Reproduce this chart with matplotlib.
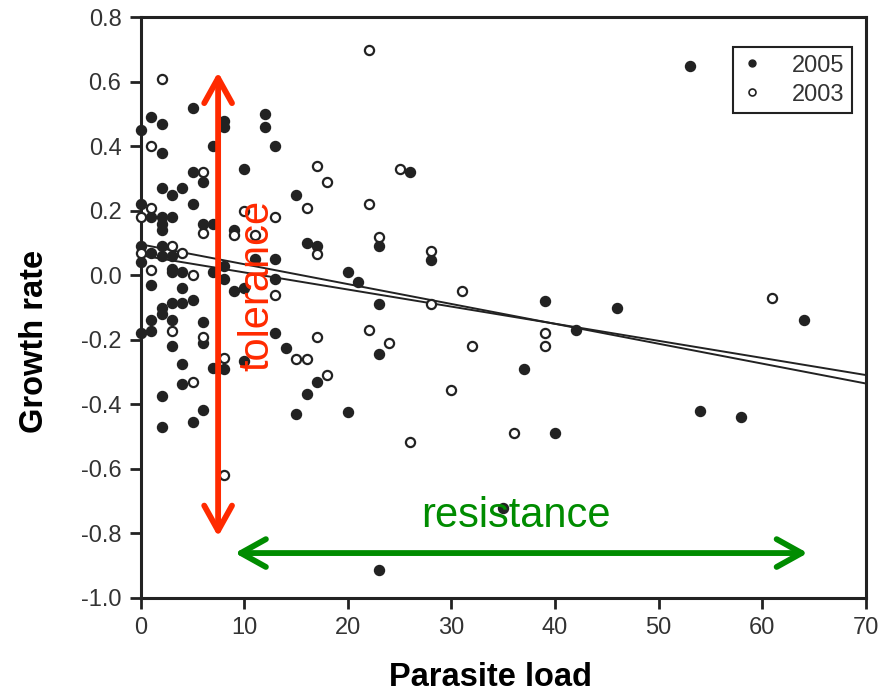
import numpy as np
import matplotlib
matplotlib.use('Agg')
import matplotlib.pyplot as plt
from matplotlib.lines import Line2D

plt.rcParams['font.family'] = ['Liberation Sans', 'DejaVu Sans']
plt.rcParams['axes.unicode_minus'] = False

#2005 (filled)
x05 = [5, 1, 2, 0, 8, 8, 12, 12, 13, 7, 2, 10, 5, 6, 2, 3, 4, 0, 5, 1, 2, 2, 2, 3, 6, 7, 9,
       0, 1, 2, 2, 3, 0, 3, 3, 4, 7, 8, 8, 1, 4, 9, 10, 11, 13, 13, 2, 2, 3, 4, 5, 1, 3, 6,
       0, 1, 6, 3, 13, 14, 4, 8, 7, 10, 4, 2, 6, 5, 2,
       23, 15, 26, 16, 17, 23, 28, 20, 21, 23, 23, 17, 16, 15, 20, 39, 46, 42, 37, 40,
       64, 54, 58, 53, 35]
y05 = [0.52, 0.49, 0.47, 0.45, 0.48, 0.46, 0.50, 0.46, 0.40, 0.40, 0.38, 0.33, 0.32, 0.29,
       0.27, 0.25, 0.27, 0.22, 0.22, 0.18, 0.18, 0.16, 0.14, 0.18, 0.16, 0.16, 0.14,
       0.09, 0.07, 0.09, 0.06, 0.06, 0.04, 0.02, 0.01, 0.01, 0.01, 0.03, -0.01, -0.03, -0.04,
       -0.05, -0.04, 0.05, 0.05, -0.01, -0.10, -0.12, -0.085, -0.085, -0.075, -0.137, -0.137,
       -0.144, -0.18, -0.173, -0.21, -0.22, -0.18, -0.224, -0.274, -0.29, -0.286, -0.265,
       -0.337, -0.373, -0.418, -0.456, -0.471,
       -0.914, 0.25, 0.32, 0.10, 0.09, 0.09, 0.048, 0.01, -0.02, -0.09, -0.243, -0.33, -0.368,
       -0.43, -0.425, -0.08, -0.10, -0.17, -0.29, -0.49, -0.14, -0.42, -0.44, 0.65, -0.72]

#2003 (open)
x03 = [2, 1, 6, 1, 0, 6, 10, 13, 9, 11, 0, 3, 4, 1, 5, 13, 3, 6, 8, 5, 8,
       26, 22, 17, 18, 16, 22, 25, 23, 28, 17, 31, 28, 22, 17, 24, 32, 15, 16, 18, 30,
       39, 39, 36, 61]
y03 = [0.61, 0.40, 0.32, 0.21, 0.18, 0.13, 0.20, 0.18, 0.126, 0.126, 0.07, 0.09, 0.07,
       0.017, 0.0, -0.06, -0.173, -0.19, -0.255, -0.33, -0.62,
       -0.518, 0.70, 0.34, 0.29, 0.21, 0.22, 0.33, 0.12, 0.077, 0.067, -0.05, -0.09, -0.17,
       -0.19, -0.21, -0.22, -0.26, -0.26, -0.31, -0.355, -0.18, -0.22, -0.49, -0.07]

#regression lines (intercept, slope)
fit_icpt = [0.096, 0.062]
fit_slope = [-0.00616, -0.0053]

xlim = [0, 70]
ylim = [-1.0, 0.8]
yticks = [-1.0, -0.8, -0.6, -0.4, -0.2, 0.0, 0.2, 0.4, 0.6, 0.8]

fig = plt.figure(figsize=(8.86, 6.92), dpi=100)
ax = fig.add_axes([0.159, 0.136, 0.818, 0.839])

dark = '#222222'
xs = np.array(xlim, dtype=float)
for b0, b1 in zip(fit_icpt, fit_slope):
    ax.plot(xs, b0 + b1*xs, color=dark, lw=1.4, zorder=2)

ax.plot(x05, y05, 'o', ms=7.2, color=dark, mec=dark, ls='none', zorder=3, clip_on=False)
ax.plot(x03, y03, 'o', ms=6.6, mfc='white', mec=dark, mew=1.6, ls='none', zorder=3,
        clip_on=False)

#tolerance / resistance arrows
ax.annotate('', xy=(7.46, 0.63), xytext=(7.46, -0.81),
            arrowprops=dict(arrowstyle='<->,head_length=0.9,head_width=0.5',
                            color='#ff2a00', lw=4.2, shrinkA=0, shrinkB=0,
                            mutation_scale=20), zorder=5)
ax.annotate('', xy=(9.08, -0.861), xytext=(64.4, -0.861),
            arrowprops=dict(arrowstyle='<->,head_length=0.9,head_width=0.5',
                            color='#008c00', lw=4.2, shrinkA=0, shrinkB=0,
                            mutation_scale=20), zorder=5)
ax.text(11.3, -0.03, 'tolerance', color='#ff2a00', fontsize=30, rotation=90,
        ha='center', va='center', zorder=6)
ax.text(36.2, -0.745, 'resistance', color='#008c00', fontsize=30,
        ha='center', va='center', zorder=6)

ax.set_xlim(xlim)
ax.set_ylim(ylim)
ax.set_xticks(np.arange(0, 71, 10))
ax.set_yticks(yticks)
ax.set_yticklabels(['%.1f' % v for v in yticks])
ax.tick_params(labelsize=17, labelcolor='#333333', length=8, width=2, color=dark,
               direction='out')
ax.tick_params(axis='x', pad=6)
ax.tick_params(axis='y', pad=6)
for s in ['left', 'bottom', 'right', 'top']:
    ax.spines[s].set_linewidth(2.2)
    ax.spines[s].set_color(dark)

ax.set_xlabel('Parasite load', fontsize=23.5, fontweight='bold')
ax.xaxis.label.set_verticalalignment('baseline')
ax.xaxis.set_label_coords(0.483, -0.151)
ax.set_ylabel('Growth rate', fontsize=23.5, fontweight='bold')
ax.yaxis.label.set_verticalalignment('baseline')
ax.yaxis.set_label_coords(-0.135, 0.441)

handles = [Line2D([], [], marker='o', ls='none', ms=5, color=dark),
           Line2D([], [], marker='o', ls='none', ms=5, mfc='white', mec=dark, mew=1.2)]
leg = ax.legend(handles, ['2005', '2003'], loc='upper right', bbox_to_anchor=(0.981, 0.948),
                fontsize=17, fancybox=False, framealpha=1, edgecolor=dark,
                handlelength=1.0, handletextpad=1.2, borderpad=0.3, labelspacing=0.3,
                borderaxespad=0)
leg.get_frame().set_linewidth(1.5)
for t in leg.get_texts():
    t.set_color('#333333')

plt.savefig('out.png', dpi=100)
